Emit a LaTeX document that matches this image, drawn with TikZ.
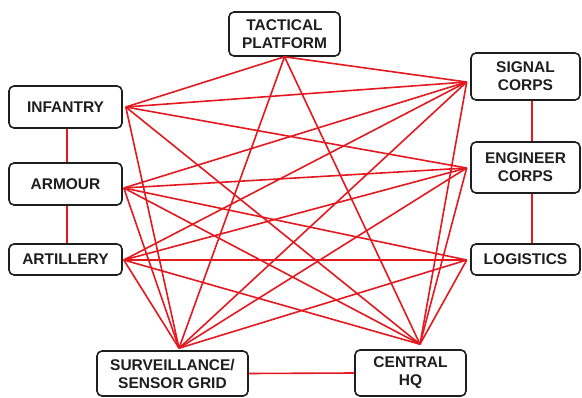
\documentclass[tikz,border=0pt]{standalone}
\usepackage{fontspec}
\setmainfont{Liberation Sans}
\usetikzlibrary{calc}
\definecolor{linkred}{HTML}{E3191F}
\definecolor{boxline}{HTML}{1E1E1E}
\begin{document}
\begin{tikzpicture}[x=1pt,y=-1pt,
  unit/.style={draw=boxline, line width=1.6pt, rounded corners=5pt, fill=white,
    align=center, text=boxline, inner sep=0pt,
    font=\fontsize{15.5}{18}\selectfont\bfseries},
  link/.style={draw=linkred, line width=1.6pt}]
\useasboundingbox (0,0) rectangle (582,397);

% units
\node[unit, minimum width=111pt, minimum height=44pt] (tp)  at (284.5,34)   {TACTICAL\\PLATFORM};
\node[unit, minimum width=113pt, minimum height=42pt] (inf) at (65.5,107)   {INFANTRY};
\node[unit, minimum width=113pt, minimum height=42pt] (arm) at (65.5,184)   {ARMOUR};
\node[unit, minimum width=113pt, minimum height=31pt] (art) at (65.5,259.5) {ARTILLERY};
\node[unit, minimum width=151pt, minimum height=45pt] (sur) at (172.5,373.5) {SURVEILLANCE/\\SENSOR GRID};
\node[unit, minimum width=111pt, minimum height=46pt] (hq)  at (410.5,373)  {CENTRAL\\HQ};
\node[unit, minimum width=109pt, minimum height=47pt] (sig) at (525.5,76.5) {SIGNAL\\CORPS};
\node[unit, minimum width=109pt, minimum height=51pt] (eng) at (525.5,167.5) {ENGINEER\\CORPS};
\node[unit, minimum width=109pt, minimum height=31pt] (log) at (525.5,259.5) {LOGISTICS};

% meeting points of the links
\coordinate (tpH)  at (tp.south);
\coordinate (infH) at ($(inf.east)+(3,0)$);
\coordinate (armH) at ($(arm.east)+(1,4)$);
\coordinate (artH) at ($(art.east)+(1,0.5)$);
\coordinate (surH) at ($(sur.north)+(6.5,-2)$);
\coordinate (hqH)  at ($(hq.north)+(9.5,-5)$);
\coordinate (sigH) at ($(sig.west)+(-3.5,5.5)$);
\coordinate (engH) at ($(eng.west)+(-3.5,0.5)$);
\coordinate (logH) at ($(log.west)+(-3.5,0.5)$);

% direct chains
\draw[link] ([xshift=1.5pt]inf.south) -- ([xshift=1.5pt]arm.north);
\draw[link] ([xshift=1.5pt]arm.south) -- ([xshift=1.5pt]art.north);
\draw[link] ([xshift=6.5pt]sig.south) -- ([xshift=6.5pt]eng.north);
\draw[link] ([xshift=6.5pt]eng.south) -- ([xshift=6.5pt]log.north);
\draw[link] (sur.east) -- (hq.west);

% communication links
\foreach \a/\b in {tpH/infH, tpH/sigH, tpH/surH, tpH/hqH,
  infH/sigH, infH/engH, infH/hqH, infH/surH,
  armH/sigH, armH/engH, armH/logH, armH/hqH, armH/surH,
  artH/sigH, artH/engH, artH/logH, artH/hqH, artH/surH,
  surH/sigH, surH/engH, surH/logH,
  hqH/sigH, hqH/engH, hqH/logH}
  \draw[link] (\a) -- (\b);
\end{tikzpicture}
\end{document}
